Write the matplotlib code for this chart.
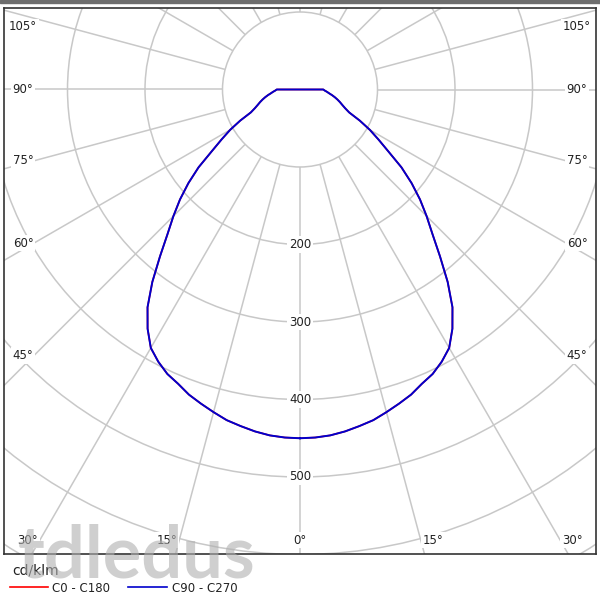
import numpy as np
import matplotlib.pyplot as plt
from matplotlib.lines import Line2D
from matplotlib.patches import Circle, Rectangle

# photometric data, gamma angle (deg) -> intensity (cd/klm)
gamma = [0, 2.5, 5, 7.5, 10, 12.5, 15, 17.5, 20, 22.5, 25, 27.5, 30, 32.5, 35, 37.5,
         40, 42.5, 45, 47.5, 50, 52.5, 55, 57.5, 60, 62.5, 65, 67.5, 70, 72.5, 75,
         77.5, 80, 82.5, 85, 87.5, 90, 180]
c0_c180 = [450, 449.5, 448, 445, 441, 437, 431, 425, 419, 411, 405, 396, 385, 366, 343, 313,
           281, 253, 231, 210, 188, 165, 139, 120, 104, 87, 70, 63, 58, 54, 50,
           46, 42, 38, 35, 32, 30, 0]
c90_c270 = [450, 449.5, 448, 445, 441, 437, 431, 425, 419, 411, 405, 396, 385, 366, 343, 313,
            281, 253, 231, 210, 188, 165, 139, 120, 104, 87, 70, 63, 58, 54, 50,
            46, 42, 38, 35, 32, 30, 0]

rings = [100, 200, 300, 400, 500, 600, 700]
ring_labels = [200, 300, 400, 500]
angle_labels = [0, 15, 30, 45, 60, 75, 90, 105]
legend_names = ['C0 - C180', 'C90 - C270']
unit = 'cd/klm'

W, H = 600, 604
PX = 77.5 / 100          # pixels per cd
k = 1 / PX               # cd per pixel
cx, cy = 300, 89.5       # centre in pixels
grid_c = '#c8c8c8'
txt_c = '#222222'


def closed_curve(g, vals):
    g = np.radians(g)
    v = np.asarray(vals, float)
    xl, yl = -v * np.sin(g), -v * np.cos(g)
    xr, yr = v * np.sin(g), -v * np.cos(g)
    return np.r_[xl, xr[::-1]], np.r_[yl, yr[::-1]]


fig = plt.figure(figsize=(W / 100, H / 100), dpi=100)
ax = fig.add_axes([4 / W, 50 / H, 592 / W, 546 / H])
ax.set_xlim(-(cx - 4) * k, (596 - cx) * k)
ax.set_ylim(-(554 - cy) * k, (cy - 8) * k)
ax.set_xticks([])
ax.set_yticks([])
for s in ax.spines.values():
    s.set_color('#333333')
    s.set_linewidth(1.2)

# radial lines every 15 deg, starting at the inner ring
for a in np.radians(np.arange(0, 360, 15)):
    ax.plot([100 * np.sin(a), 1200 * np.sin(a)], [-100 * np.cos(a), -1200 * np.cos(a)],
            color=grid_c, lw=1.1, zorder=1)
for r in rings:
    ax.add_patch(Circle((0, 0), r, fill=(r == 100), fc='white', ec=grid_c, lw=1.1, zorder=1.5))

for r in ring_labels:
    ax.text(0, -r, str(r), ha='center', va='center', fontsize=8.5, color=txt_c, zorder=2,
            bbox=dict(fc='white', ec='none', pad=1.2))

# angle labels along the frame
side_dx = 277
bottom_dy = 450.5
for g in angle_labels:
    for sgn in ([1] if g == 0 else [-1, 1]):
        t = np.radians(g)
        dy_side = side_dx / np.tan(t) * 0.96 if g not in (0, 90) else (0 if g == 90 else 1e9)
        if dy_side > bottom_dy:
            px = bottom_dy * np.tan(t) + (12 if g else 0)
            py = bottom_dy
        else:
            px = side_dx
            py = max(dy_side, -62.5)
        ax.text(sgn * px * k, -py * k, f'{g}°', ha='center', va='center', fontsize=8.5,
                color=txt_c, zorder=2, bbox=dict(fc='white', ec='none', pad=1.2))

x0, y0 = closed_curve(gamma, c0_c180)
x1, y1 = closed_curve(gamma, c90_c270)
ax.plot(x0, y0, color='red', lw=1.2, zorder=3)
ax.plot(x1, y1, color='#0000cc', lw=1.4, zorder=4, solid_joinstyle='round')

# legend below the plot
fig.text(12 / W, 1 - 571 / H, unit, fontsize=10, color=txt_c, va='center', ha='left')
leg = [(10, 48, 52, 'red'), (128, 167, 172, '#0000cc')]
for (a, b, tx, col), name in zip(leg, legend_names):
    fig.add_artist(Line2D([a / W, b / W], [1 - 587 / H] * 2, color=col, lw=1.2))
    fig.text(tx / W, 1 - 588 / H, name, fontsize=8.5, color=txt_c, va='center', ha='left')

fig.patches.append(Rectangle((0, 1 - 3 / H), 1, 3 / H, transform=fig.transFigure,
                             color='#6e6e6e', zorder=5))

# watermark
fig.text(18 / W, 1 - 577 / H, 'tdledus', fontsize=52, family='Lato', weight='bold',
         color='#b0b0b0', alpha=0.6, va='baseline', ha='left', zorder=10)

fig.savefig('out.png', dpi=100, facecolor='white')
